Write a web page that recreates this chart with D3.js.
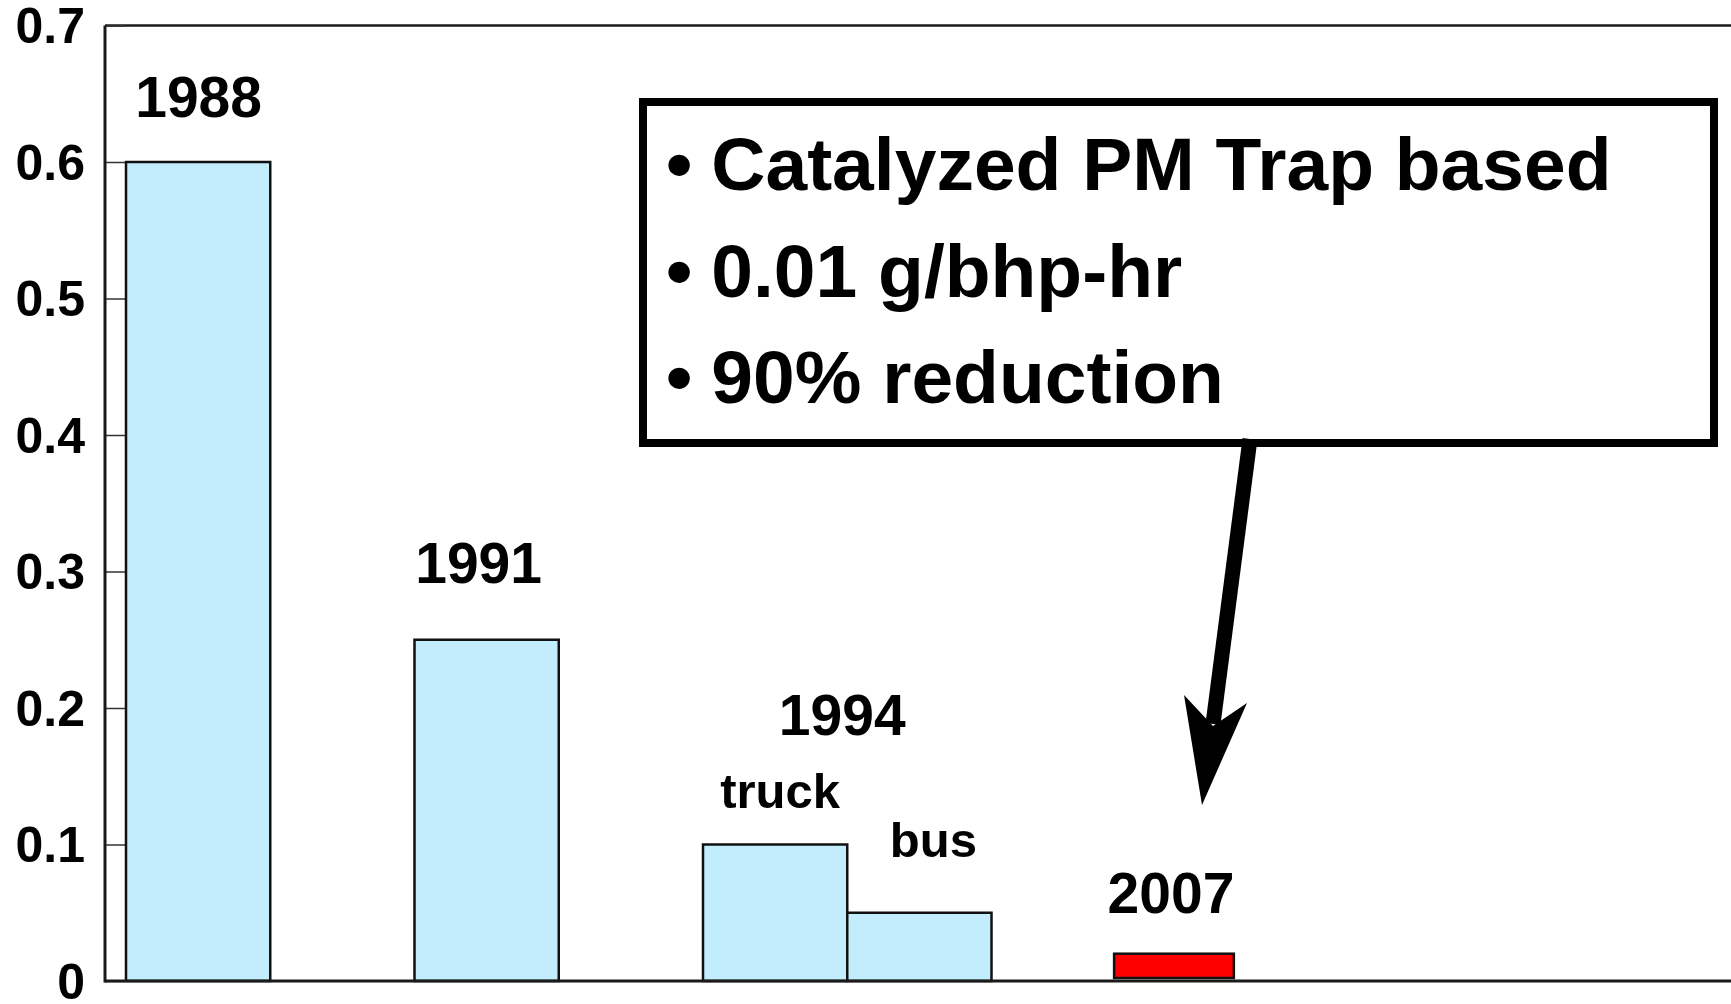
<!DOCTYPE html>
<html>
<head>
<meta charset="utf-8">
<script src="https://cdn.jsdelivr.net/npm/d3@7"></script>
<style>
  body { margin: 0; background: #fff; }
  text { font-family: "Liberation Sans", Arial, sans-serif; font-weight: bold; fill: #000; }
</style>
</head>
<body>
<svg id="chart"></svg>
<script>
const width = 1731;
const height = 1004;

// PM standard (g/bhp-hr)
const years = ['1988', '1991', '1994', '2007'];
const pmLimits = [0.6, 0.25, null, 0.02];
const subTypes = ['truck', 'bus'];
const subLimits1994 = [0.1, 0.05];
const yTicks = [0, 0.1, 0.2, 0.3, 0.4, 0.5, 0.6, 0.7];
const calloutLines = ['Catalyzed PM Trap based', '0.01 g/bhp-hr', '90% reduction'];

const svg = d3.select('#chart')
    .attr('width', width)
    .attr('height', height);

const x = d3.scaleBand()
    .domain(years)
    .range([126, 1135.75])
    .paddingInner(0.5)
    .paddingOuter(0);

const y = d3.scaleLinear()
    .domain([0, 0.7])
    .range([981, 25.5]);

const bw = x.bandwidth();
const xSub = d3.scaleBand()
    .domain(subTypes)
    .range([0, 2 * bw]);

// frame: left axis, top line, baseline
const axisX = 105;
svg.append('line')
    .attr('x1', axisX).attr('x2', width)
    .attr('y1', y(0.7)).attr('y2', y(0.7))
    .attr('stroke', '#1a1a1a').attr('stroke-width', 2.5);

// y axis ticks (inward) + labels
const yAxis = d3.axisRight(y)
    .tickValues(yTicks)
    .tickSize(20)
    .tickFormat('');
const yg = svg.append('g')
    .attr('transform', `translate(${axisX},0)`)
    .call(yAxis);
yg.select('.domain').remove();
yg.selectAll('.tick line').attr('stroke', '#333').attr('stroke-width', 1.5);

svg.selectAll('.ytick-label')
    .data(yTicks)
    .enter().append('text')
    .attr('class', 'ytick-label')
    .attr('x', 85)
    .attr('y', d => y(d))
    .attr('dy', '0.35em')
    .attr('text-anchor', 'end')
    .style('font-size', '50px')
    .text(d => d === 0 ? '0' : d3.format('.1f')(d));

// bars
const barData = years.map((yr, i) => ({year: yr, value: pmLimits[i]}))
    .filter(d => d.value !== null);

svg.selectAll('.bar')
    .data(barData)
    .enter().append('rect')
    .attr('class', 'bar')
    .attr('x', d => d.year === '2007' ? x(d.year) + bw * 0.85 : x(d.year))
    .attr('y', d => y(d.value))
    .attr('width', d => d.year === '2007' ? bw * 0.83 : bw)
    .attr('height', d => d.year === '2007' ? y(0) - y(d.value) - 3 : y(0) - y(d.value))
    .attr('fill', d => d.year === '2007' ? '#ff0000' : '#c1edfc')
    .attr('stroke', '#111')
    .attr('stroke-width', 2.5);

const subData = subTypes.map((t, i) => ({type: t, value: subLimits1994[i]}));
svg.selectAll('.subbar')
    .data(subData)
    .enter().append('rect')
    .attr('class', 'subbar')
    .attr('x', d => x('1994') + xSub(d.type))
    .attr('y', d => y(d.value))
    .attr('width', xSub.bandwidth())
    .attr('height', d => y(0) - y(d.value))
    .attr('fill', '#c1edfc')
    .attr('stroke', '#111')
    .attr('stroke-width', 2.5);

// left axis and baseline on top of bars
svg.append('line')
    .attr('x1', axisX).attr('x2', axisX)
    .attr('y1', y(0.7)).attr('y2', y(0) + 1.5)
    .attr('stroke', '#1a1a1a').attr('stroke-width', 3);
svg.append('line')
    .attr('x1', axisX).attr('x2', width)
    .attr('y1', y(0)).attr('y2', y(0))
    .attr('stroke', '#1a1a1a').attr('stroke-width', 3);

// year labels
const yearLabelPos = {
    '1988': {dx: 0.5, y: y(0.6) - 45},
    '1991': {dx: -8, y: y(0.25) - 57},
    '1994': {dx: bw - 5, y: y(0.1) - 110},
    '2007': {dx: bw * 0.85 + bw * 0.415 - 3, y: y(0.02) - 41}
};
svg.selectAll('.year-label')
    .data(years)
    .enter().append('text')
    .attr('class', 'year-label')
    .attr('x', d => d === '1994' || d === '2007' ? x(d) + yearLabelPos[d].dx : x(d) + bw / 2 + yearLabelPos[d].dx)
    .attr('y', d => yearLabelPos[d].y)
    .attr('text-anchor', 'middle')
    .style('font-size', '57px')
    .text(d => d);

const subLabelDx = {truck: 5, bus: 14};
svg.selectAll('.sub-label')
    .data(subData)
    .enter().append('text')
    .attr('class', 'sub-label')
    .attr('x', d => x('1994') + xSub(d.type) + xSub.bandwidth() / 2 + subLabelDx[d.type])
    .attr('y', d => d.type === 'truck' ? y(0.1) - 37 : y(0.05) - 56)
    .attr('text-anchor', 'middle')
    .style('font-size', '49px')
    .text(d => d.type);

// callout box
const box = {x: 643, y: 102, w: 1071, h: 341};
svg.append('rect')
    .attr('x', box.x).attr('y', box.y)
    .attr('width', box.w).attr('height', box.h)
    .attr('fill', '#fff')
    .attr('stroke', '#000')
    .attr('stroke-width', 8);

const callout = svg.append('g');
calloutLines.forEach((line, i) => {
    const t = callout.append('text')
        .attr('x', 666)
        .attr('y', 190 + i * 106.5)
        .style('font-size', '75px');
    t.append('tspan').text('\u2022');
    t.append('tspan').attr('dx', 19).text(line);
});

// arrow from box down to the 2007 bar
svg.append('line')
    .attr('x1', 1250).attr('y1', box.y + box.h - 4)
    .attr('x2', 1213).attr('y2', 724)
    .attr('stroke', '#000')
    .attr('stroke-width', 15);
svg.append('path')
    .attr('d', 'M1202,805 L1184,695 L1213,726 L1247,703 Z')
    .attr('fill', '#000');
</script>
</body>
</html>
